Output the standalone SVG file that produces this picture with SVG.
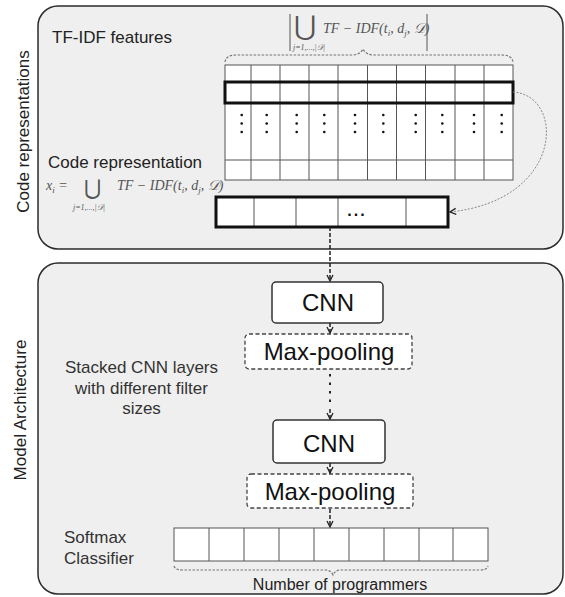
<svg xmlns="http://www.w3.org/2000/svg" width="565" height="597" viewBox="0 0 565 597">
<defs>
<style>
.panel{fill:#efefef;stroke:#2b2b2b;stroke-width:1.5}
.lbl{font-family:"Liberation Sans",Arial,sans-serif;font-size:17px;fill:#222}
.lbl2{font-family:"Liberation Sans",Arial,sans-serif;font-size:17px;fill:#333}
.big{font-family:"Liberation Sans",Arial,sans-serif;font-size:24px;fill:#111;text-anchor:middle}
.math{font-family:"Liberation Serif","DejaVu Serif",serif;font-style:italic;fill:#555}
.op{font-family:"DejaVu Serif",serif;font-style:normal;fill:#555;text-anchor:middle}
.cell{fill:#fff;stroke:#555;stroke-width:1}
.thin{stroke:#555;stroke-width:1;fill:none}
.thick{fill:none;stroke:#111;stroke-width:3}
.box{fill:#fff;stroke:#333;stroke-width:1.5}
.dbox{fill:#fff;stroke:#444;stroke-width:1.3;stroke-dasharray:4 2.5}
.brace{fill:none;stroke:#777;stroke-width:1.2;stroke-dasharray:2.5 1.5}
.dash{fill:none;stroke:#222;stroke-width:1.5;stroke-dasharray:4 2}
.curve{fill:none;stroke:#888;stroke-width:1;stroke-dasharray:2 1.5}
.dot{fill:#111}
</style>
<marker id="ah" viewBox="0 0 8 8" refX="7" refY="4" markerWidth="8" markerHeight="8" markerUnits="userSpaceOnUse" orient="auto">
<path d="M1,1 L7,4 L1,7" fill="none" stroke="#222" stroke-width="1.3"/>
</marker>
</defs>

<g id="panel-code">
<rect class="panel" x="38" y="6" width="525" height="243" rx="20"/>
<text class="lbl" transform="translate(29,131.5) rotate(-90)" text-anchor="middle">Code representations</text>
<text class="lbl" x="52" y="43">TF-IDF features</text>
</g>

<g id="panel-model">
<rect class="panel" x="38" y="263" width="525" height="331" rx="20"/>
<text class="lbl" transform="translate(26,410) rotate(-90)" text-anchor="middle">Model Architecture</text>
</g>

<g id="tfidf-matrix">
<rect class="cell" x="225" y="65" width="288" height="115"/>
<path class="thin" d="M225,82H513M225,103H513M225,160H513M251,65V180M280,65V180M309,65V180M338,65V180M367.5,65V180M396.5,65V180M425.5,65V180M455,65V180M484,65V180"/>
<rect class="thick" x="225" y="82" width="288" height="21"/>
<g class="dot">
<circle cx="241.7" cy="115" r="1.3"/><circle cx="241.7" cy="123.5" r="1.3"/><circle cx="241.7" cy="132" r="1.3"/>
<circle cx="266.7" cy="115" r="1.3"/><circle cx="266.7" cy="123.5" r="1.3"/><circle cx="266.7" cy="132" r="1.3"/>
<circle cx="296.7" cy="115" r="1.3"/><circle cx="296.7" cy="123.5" r="1.3"/><circle cx="296.7" cy="132" r="1.3"/>
<circle cx="324.3" cy="115" r="1.3"/><circle cx="324.3" cy="123.5" r="1.3"/><circle cx="324.3" cy="132" r="1.3"/>
<circle cx="355" cy="115" r="1.3"/><circle cx="355" cy="123.5" r="1.3"/><circle cx="355" cy="132" r="1.3"/>
<circle cx="383.3" cy="115" r="1.3"/><circle cx="383.3" cy="123.5" r="1.3"/><circle cx="383.3" cy="132" r="1.3"/>
<circle cx="415.7" cy="115" r="1.3"/><circle cx="415.7" cy="123.5" r="1.3"/><circle cx="415.7" cy="132" r="1.3"/>
<circle cx="442.3" cy="115" r="1.3"/><circle cx="442.3" cy="123.5" r="1.3"/><circle cx="442.3" cy="132" r="1.3"/>
<circle cx="474" cy="115" r="1.3"/><circle cx="474" cy="123.5" r="1.3"/><circle cx="474" cy="132" r="1.3"/>
<circle cx="501.7" cy="115" r="1.3"/><circle cx="501.7" cy="123.5" r="1.3"/><circle cx="501.7" cy="132" r="1.3"/>
</g>
<path class="brace" d="M225,62 Q226,55 236,55 L352,55 Q360,55 363,49 Q366,55 374,55 L502,55 Q512,55 513,62"/>
</g>

<g id="tfidf-formula">
<path class="thin" d="M290,14V51M427,14V51"/>
<text class="op" x="304.5" y="35" font-size="27">⋃</text>
<text class="math" x="323" y="33" font-size="14">TF − IDF(t<tspan font-size="9" dy="3">i</tspan><tspan dy="-3">, d</tspan><tspan font-size="9" dy="3">j</tspan><tspan dy="-3">, 𝒟)</tspan></text>
<text class="math" x="293" y="50" font-size="8">j=1,...,|𝒟|</text>
</g>

<g id="code-representation">
<text class="lbl" x="48" y="168">Code representation</text>
<text class="math" x="46" y="190" font-size="14">x<tspan font-size="9" dy="3">i</tspan><tspan dy="-3"> =</tspan></text>
<text class="op" x="92.5" y="195" font-size="21">⋃</text>
<text class="math" x="117" y="190" font-size="14">TF − IDF(t<tspan font-size="9" dy="3">i</tspan><tspan dy="-3">, d</tspan><tspan font-size="9" dy="3">j</tspan><tspan dy="-3">, 𝒟)</tspan></text>
<text class="math" x="73" y="210" font-size="8">j=1,...,|𝒟|</text>
<rect class="cell" x="216" y="197" width="232" height="30"/>
<path class="thin" d="M254,197V227M296,197V227M338,197V227M406,197V227"/>
<rect class="thick" x="216" y="197" width="232" height="30"/>
<text x="357" y="216" font-family="Liberation Sans,Arial,sans-serif" font-size="16" font-weight="bold" fill="#111" text-anchor="middle" letter-spacing="2">...</text>
</g>

<g id="cnn1">
<rect class="box" x="272" y="282" width="111" height="41" rx="4"/>
<text class="big" x="328" y="311">CNN</text>
</g>
<g id="maxpool1">
<rect class="dbox" x="245" y="334" width="167" height="35" rx="4"/>
<text class="big" x="329" y="360">Max-pooling</text>
</g>
<g id="cnn2">
<rect class="box" x="273" y="420" width="112" height="43" rx="4"/>
<text class="big" x="329" y="452">CNN</text>
</g>
<g id="maxpool2">
<rect class="dbox" x="247" y="474" width="166" height="34" rx="4"/>
<text class="big" x="330" y="500">Max-pooling</text>
</g>

<g id="stacked-label">
<text class="lbl2" text-anchor="middle"><tspan x="141.5" y="373">Stacked CNN layers</tspan><tspan x="141.5" y="393.5">with different filter</tspan><tspan x="141.5" y="414">sizes</tspan></text>
</g>

<g id="softmax">
<text class="lbl2"><tspan x="64" y="543">Softmax</tspan><tspan x="64" y="564">Classifier</tspan></text>
<rect class="cell" x="174" y="528" width="314" height="33" stroke-width="1.5"/>
<path class="thin" d="M209,528V561M244,528V561M279,528V561M314,528V561M349,528V561M384,528V561M419,528V561M453,528V561"/>
<path class="brace" d="M174,566 Q175,570 182,570 L325,570 Q331,570 333,575 Q335,570 341,570 L480,570 Q487,570 488,566"/>
<text x="340" y="590" font-family="Liberation Sans,Arial,sans-serif" font-size="16" fill="#222" text-anchor="middle">Number of programmers</text>
</g>

<g id="connectors">
<path class="curve" d="M513,92 C565,95 565,200 450,212" marker-end="url(#ah)"/>
<path class="dash" d="M330,227 V281" marker-end="url(#ah)"/>
<path class="dash" d="M330,323 V333" marker-end="url(#ah)"/>
<path d="M330,374 V406" fill="none" stroke="#222" stroke-width="2" stroke-dasharray="2.5 6"/>
<path class="dash" d="M330,409 V419" marker-end="url(#ah)"/>
<path class="dash" d="M330,463 V473" marker-end="url(#ah)"/>
<path class="dash" d="M330,509 V527" marker-end="url(#ah)"/>
</g>
</svg>
